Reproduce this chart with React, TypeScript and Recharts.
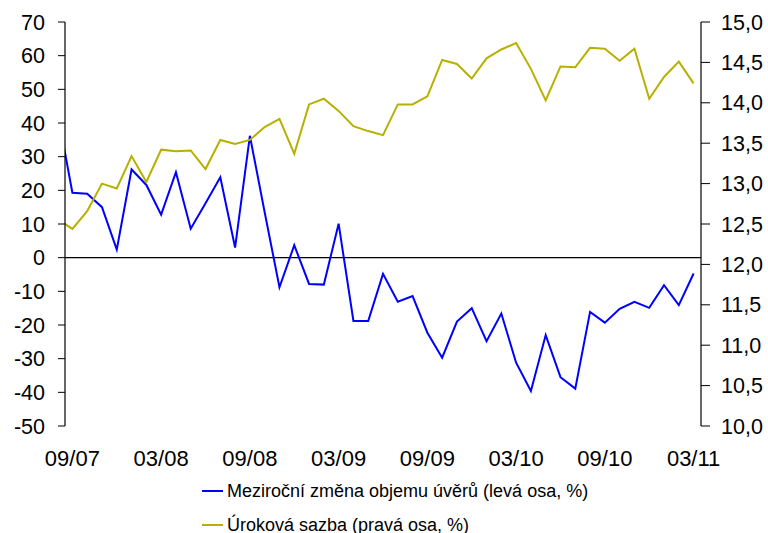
import React from "react";
import { LineChart, Line, XAxis, YAxis, ReferenceLine } from "recharts";

// index -1 (08/07) lies just outside the plotted range and is clipped, as in the original
const monthIndex = [-1, 0, 1, 2, 3, 4, 5, 6, 7, 8, 9, 10, 11, 12, 13, 14, 15, 16, 17, 18, 19, 20, 21, 22, 23, 24, 25, 26, 27, 28, 29, 30, 31, 32, 33, 34, 35, 36, 37, 38, 39, 40, 41, 42];
const months = ["08/07", "09/07", "10/07", "11/07", "12/07", "01/08", "02/08", "03/08", "04/08", "05/08", "06/08", "07/08", "08/08", "09/08", "10/08", "11/08", "12/08", "01/09", "02/09", "03/09", "04/09", "05/09", "06/09", "07/09", "08/09", "09/09", "10/09", "11/09", "12/09", "01/10", "02/10", "03/10", "04/10", "05/10", "06/10", "07/10", "08/10", "09/10", "10/10", "11/10", "12/10", "01/11", "02/11", "03/11"];
const creditGrowth = [43, 19.3, 19.0, 15.0, 2.4, 26.2, 21.6, 12.8, 25.4, 8.6, 16.2, 23.9, 3.0, 36.2, 13.5, -8.8, 3.7, -7.8, -8.0, 10.1, -18.8, -18.8, -4.8, -13.1, -11.4, -22.3, -29.7, -19.0, -15.0, -24.8, -16.6, -31.2, -39.6, -23.0, -35.5, -38.9, -16.1, -19.3, -15.2, -13.1, -14.9, -8.2, -14.1, -4.7];
const interestRate = [12.56, 12.44, 12.66, 13.0, 12.94, 13.34, 13.02, 13.42, 13.4, 13.41, 13.18, 13.54, 13.49, 13.54, 13.7, 13.8, 13.37, 13.98, 14.05, 13.9, 13.71, 13.65, 13.6, 13.98, 13.98, 14.08, 14.53, 14.48, 14.3, 14.55, 14.66, 14.74, 14.42, 14.03, 14.45, 14.44, 14.68, 14.67, 14.52, 14.67, 14.05, 14.32, 14.51, 14.24];

const xTicks = [0, 6, 12, 18, 24, 30, 36, 42];
const leftTicks = [-50, -40, -30, -20, -10, 0, 10, 20, 30, 40, 50, 60, 70];
const rightTicks = [10, 10.5, 11, 11.5, 12, 12.5, 13, 13.5, 14, 14.5, 15];

const seriesNames = ["Meziroční změna objemu úvěrů (levá osa, %)", "Úroková sazba (pravá osa, %)"];
const seriesColors = ["#0000FF", "#B8B000"];

const data = monthIndex.map((i, k) => ({
  i,
  label: months[k],
  credit: creditGrowth[k],
  rate: interestRate[k],
}));

const FONT = '"Liberation Sans", Arial, Helvetica, sans-serif';

const labelFor = (v: number) => {
  const k = monthIndex.indexOf(v);
  return k >= 0 ? months[k] : "";
};

export default function App() {
  return (
    <div style={{ position: "absolute", left: 0, top: 0, width: 768, height: 533, background: "#fff", fontFamily: FONT }}>
      <LineChart
        width={768}
        height={533}
        data={data}
        margin={{ top: 22, right: 0, bottom: 0, left: 0 }}
      >
        <XAxis
          dataKey="i"
          type="number"
          domain={[-0.5, 42.5]}
          allowDataOverflow
          ticks={xTicks}
          tickFormatter={labelFor}
          axisLine={false}
          tickLine={false}
          tickSize={0}
          tickMargin={24}
          height={107}
          interval={0}
          tick={{ fill: "#000", fontSize: 22, fontFamily: FONT }}
        />
        <YAxis
          yAxisId="left"
          orientation="left"
          domain={[-50, 70]}
          ticks={leftTicks}
          interval={0}
          width={65}
          allowDataOverflow
          axisLine={{ stroke: "#000", strokeWidth: 1.2 }}
          tickLine={{ stroke: "#000", strokeWidth: 1 }}
          tickSize={7}
          tickMargin={13}
          tick={{ fill: "#000", fontSize: 21.5, fontFamily: FONT }}
        />
        <YAxis
          yAxisId="right"
          orientation="right"
          domain={[10, 15]}
          ticks={rightTicks}
          interval={0}
          width={67}
          allowDataOverflow
          axisLine={{ stroke: "#000", strokeWidth: 1.2 }}
          tickLine={{ stroke: "#000", strokeWidth: 1 }}
          tickSize={9}
          tickMargin={11}
          tickFormatter={(v: number) => v.toFixed(1).replace(".", ",")}
          tick={{ fill: "#000", fontSize: 21.5, fontFamily: FONT }}
        />
        <ReferenceLine yAxisId="left" y={0} stroke="#000" strokeWidth={1.3} />
        <Line
          yAxisId="left"
          dataKey="credit"
          stroke={seriesColors[0]}
          strokeWidth={2}
          dot={false}
          isAnimationActive={false}
        />
        <Line
          yAxisId="right"
          dataKey="rate"
          stroke={seriesColors[1]}
          strokeWidth={2}
          dot={false}
          isAnimationActive={false}
        />
      </LineChart>
      {seriesNames.map((name, k) => (
        <div
          key={name}
          style={{
            position: "absolute",
            left: 202,
            top: k === 0 ? 480 : 514,
            height: 22,
            display: "flex",
            alignItems: "center",
            whiteSpace: "nowrap",
            fontSize: 18,
            color: "#000",
          }}
        >
          <span style={{ display: "inline-block", width: 21, height: 2, background: seriesColors[k], marginRight: 4 }} />
          <span>{name}</span>
        </div>
      ))}
    </div>
  );
}
